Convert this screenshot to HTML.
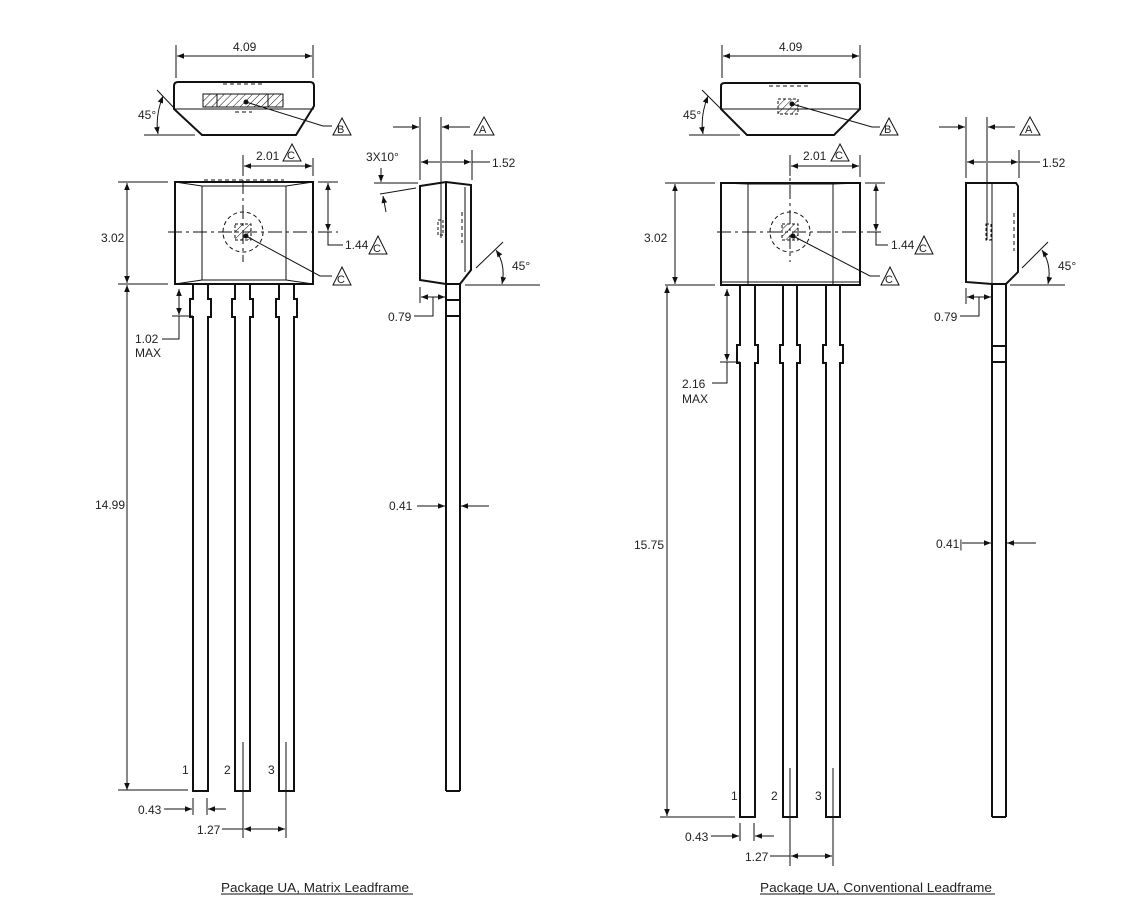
<!DOCTYPE html>
<html><head><meta charset="utf-8"><style>
html,body{margin:0;padding:0;background:#fff;}
svg{display:block;}
text{font-family:"Liberation Sans",sans-serif;font-size:12px;fill:#222;}
.o{stroke:#111;stroke-width:2;fill:none;}
.t{stroke:#111;stroke-width:1;fill:none;}
.d{stroke:#111;stroke-width:1;fill:none;stroke-dasharray:4,3;}
.c{stroke:#111;stroke-width:1;fill:none;stroke-dasharray:14,4,3,4;}
</style></head><body>
<svg width="1137" height="899" viewBox="0 0 1137 899" xmlns="http://www.w3.org/2000/svg">
<defs>
<marker id="a" viewBox="0 0 10 10" refX="10" refY="5" markerWidth="9" markerHeight="7" orient="auto-start-reverse" markerUnits="userSpaceOnUse"><path d="M0,1 L10,5 L0,9 z" fill="#111"/></marker>
<pattern id="h" width="5" height="5" patternUnits="userSpaceOnUse" patternTransform="rotate(45)"><line x1="0" y1="0" x2="0" y2="5" stroke="#111" stroke-width="1"/></pattern>
</defs>

<!-- ============ LEFT PACKAGE ============ -->
<line class="t" x1="176" y1="45" x2="176" y2="78"/><line class="t" x1="313" y1="45" x2="313" y2="78"/>
<line class="t" x1="177" y1="56" x2="312" y2="56" marker-start="url(#a)" marker-end="url(#a)"/>
<text x="233" y="51">4.09</text>
<path class="o" d="M178,82 L310,82 Q314,82 314,86 L314,106 L296,135 L202,135 L174,109 L174,86 Q174,82 178,82 Z"/>
<line class="t" x1="174" y1="109" x2="314" y2="109"/>
<rect x="203" y="94" width="80" height="13" fill="url(#h)" stroke="#111" stroke-width="1"/>
<line class="t" x1="217" y1="94" x2="217" y2="107"/><line class="t" x1="268" y1="94" x2="268" y2="107"/>
<line class="d" x1="223" y1="84" x2="262" y2="84"/>
<line class="d" x1="235" y1="112" x2="252" y2="112"/>
<circle cx="246" cy="102" r="2.5" fill="#111"/>
<polyline class="t" points="246,102 323,126 332,126"/>
<polygon class="t" points="342,118 333,135 351,135"/><text x="337" y="133" style="font-size:11px">B</text>
<line class="t" x1="157" y1="90" x2="176" y2="110"/><line class="t" x1="144" y1="135" x2="195" y2="135"/>
<path class="t" d="M163,96 Q155,116 158,134" marker-start="url(#a)" marker-end="url(#a)"/>
<text x="138" y="119">45°</text>

<rect class="o" x="175" y="182" width="138" height="102"/>
<polyline class="t" points="175,182 202,186 286,186 313,182"/>
<polyline class="t" points="175,284 202,280 286,280 313,284"/>
<line class="t" x1="202" y1="186" x2="202" y2="280"/><line class="t" x1="286" y1="186" x2="286" y2="280"/>
<line class="d" x1="204" y1="180" x2="284" y2="180"/>
<line class="c" x1="243" y1="155" x2="243" y2="262"/>
<line class="c" x1="168" y1="232" x2="338" y2="232"/>
<circle cx="243" cy="232" r="20" class="d"/>
<rect x="235" y="224" width="16" height="16" fill="url(#h)" stroke="#111" stroke-width="1" stroke-dasharray="3,2"/>
<circle cx="246" cy="236" r="2.5" fill="#111"/>
<polyline class="t" points="246,236 320,276 332,276"/>
<polygon class="t" points="342,267 333,285 351,285"/><text x="337" y="283" style="font-size:11px">C</text>
<line class="t" x1="243" y1="160" x2="243" y2="176"/>
<line class="t" x1="313" y1="158" x2="313" y2="176"/>
<line class="t" x1="244" y1="166" x2="312" y2="166" marker-start="url(#a)" marker-end="url(#a)"/>
<text x="256" y="160">2.01</text>
<polygon class="t" points="292,144 283,161 301,161"/><text x="287" y="159" style="font-size:11px">C</text>
<line class="t" x1="118" y1="182" x2="168" y2="182"/><line class="t" x1="118" y1="284" x2="168" y2="284"/>
<line class="t" x1="127" y1="183" x2="127" y2="283" marker-start="url(#a)" marker-end="url(#a)"/>
<text x="101" y="242">3.02</text>
<line class="t" x1="318" y1="182" x2="338" y2="182"/>
<line class="t" x1="328" y1="183" x2="328" y2="231" marker-start="url(#a)" marker-end="url(#a)"/>
<polyline class="t" points="328,232 328,245 343,245"/>
<text x="345" y="249">1.44</text>
<polygon class="t" points="378,236 369,254 387,254"/><text x="373" y="252" style="font-size:11px">C</text>
<g class="o">
<path d="M193,284 V299 H190 V317 H193 V791 H208 V317 H211 V299 H208 V284"/>
<path d="M235,284 V299 H232 V317 H235 V791 H250 V317 H253 V299 H250 V284"/>
<path d="M279,284 V299 H276 V317 H279 V791 H294 V317 H297 V299 H294 V284"/>
</g>
<line class="t" x1="243" y1="742" x2="243" y2="800"/><line class="t" x1="286" y1="742" x2="286" y2="800"/>
<text x="182" y="774">1</text><text x="224" y="774">2</text><text x="268" y="774">3</text>
<line class="t" x1="172" y1="316" x2="193" y2="316"/>
<line class="t" x1="179" y1="289" x2="179" y2="315" marker-start="url(#a)" marker-end="url(#a)"/>
<polyline class="t" points="179,316 179,339 162,339"/>
<text x="135" y="343">1.02</text><text x="135" y="357">MAX</text>
<line class="t" x1="127" y1="285" x2="127" y2="790" marker-start="url(#a)" marker-end="url(#a)"/>
<line class="t" x1="118" y1="790" x2="188" y2="790"/>
<text x="95" y="509">14.99</text>
<line class="t" x1="193" y1="798" x2="193" y2="815"/><line class="t" x1="207" y1="798" x2="207" y2="815"/>
<line class="t" x1="164" y1="809" x2="192" y2="809" marker-end="url(#a)"/>
<line class="t" x1="226" y1="809" x2="208" y2="809" marker-end="url(#a)"/>
<text x="138" y="814">0.43</text>
<line class="t" x1="243" y1="800" x2="243" y2="838"/><line class="t" x1="286" y1="800" x2="286" y2="838"/>
<line class="t" x1="222" y1="829" x2="243" y2="829"/>
<line class="t" x1="244" y1="829" x2="285" y2="829" marker-start="url(#a)" marker-end="url(#a)"/>
<text x="197" y="834">1.27</text>
<text x="221" y="892" textLength="188" lengthAdjust="spacingAndGlyphs" style="font-size:13px">Package UA, Matrix Leadframe</text>
<line class="t" x1="221" y1="894" x2="413" y2="894"/>

<path class="o" d="M420,186 L446,182 L471,185 L471,270 L460,284 L446,284 L420,280 Z"/>
<line class="o" x1="446" y1="182" x2="446" y2="284"/>
<line class="t" x1="465" y1="187" x2="465" y2="272"/>
<line class="d" x1="462" y1="212" x2="462" y2="243"/>
<path class="t" d="M438,220 h5 v15 h-5 z" stroke-dasharray="3,2"/>
<line class="o" x1="446" y1="284" x2="446" y2="791"/><line class="o" x1="460" y1="284" x2="460" y2="791"/>
<line class="o" x1="446" y1="791" x2="460" y2="791"/>
<line class="o" x1="446" y1="300" x2="460" y2="300"/><line class="o" x1="446" y1="316" x2="460" y2="316"/>
<line class="t" x1="420" y1="117" x2="420" y2="180"/><line class="t" x1="441" y1="117" x2="441" y2="238"/>
<line class="t" x1="393" y1="127" x2="419" y2="127" marker-end="url(#a)"/>
<line class="t" x1="470" y1="127" x2="442" y2="127" marker-end="url(#a)"/>
<polygon class="t" points="484,117 474,135 494,135"/><text x="479" y="133" style="font-size:11px">A</text>
<line class="t" x1="472" y1="150" x2="472" y2="180"/>
<line class="t" x1="440" y1="162" x2="421" y2="162" marker-end="url(#a)"/>
<line class="t" x1="442" y1="162" x2="471" y2="162" marker-end="url(#a)"/>
<line class="t" x1="472" y1="162" x2="490" y2="162"/>
<text x="492" y="167">1.52</text>
<text x="366" y="161">3X10°</text>
<line class="t" x1="374" y1="183" x2="418" y2="183"/>
<line class="t" x1="380" y1="194" x2="416" y2="188"/>
<line class="t" x1="381" y1="168" x2="381" y2="182" marker-end="url(#a)"/>
<line class="t" x1="386" y1="212" x2="383" y2="196" marker-end="url(#a)"/>
<line class="t" x1="476" y1="268" x2="503" y2="242"/>
<line class="t" x1="465" y1="285" x2="540" y2="285"/>
<path class="t" d="M496,250 Q506,265 502,284" marker-start="url(#a)" marker-end="url(#a)"/>
<text x="512" y="270">45°</text>
<line class="t" x1="420" y1="287" x2="420" y2="303"/>
<line class="t" x1="421" y1="297" x2="445" y2="297" marker-start="url(#a)" marker-end="url(#a)"/>
<polyline class="t" points="433,297 433,316 414,316"/>
<text x="388" y="321">0.79</text>
<line class="t" x1="417" y1="506" x2="445" y2="506" marker-end="url(#a)"/>
<line class="t" x1="489" y1="506" x2="461" y2="506" marker-end="url(#a)"/>
<text x="389" y="510">0.41</text>

<!-- ============ RIGHT PACKAGE ============ -->
<line class="t" x1="722" y1="45" x2="722" y2="78"/><line class="t" x1="860" y1="45" x2="860" y2="78"/>
<line class="t" x1="723" y1="56" x2="859" y2="56" marker-start="url(#a)" marker-end="url(#a)"/>
<text x="779" y="51">4.09</text>
<path class="o" d="M725,83 L857,83 Q860,83 860,86 L860,109 L834,135 L747,135 L721,109 L721,86 Q721,83 725,83 Z"/>
<line class="t" x1="721" y1="109" x2="860" y2="109"/>
<line class="d" x1="769" y1="86" x2="808" y2="86"/>
<rect x="778" y="99" width="20" height="15" fill="url(#h)" stroke="#111" stroke-width="1" stroke-dasharray="3,2"/>
<circle cx="792" cy="104" r="2.5" fill="#111"/>
<polyline class="t" points="792,104 872,127 880,127"/>
<polygon class="t" points="889,118 880,135 898,135"/><text x="884" y="133" style="font-size:11px">B</text>
<line class="t" x1="702" y1="90" x2="721" y2="109"/><line class="t" x1="689" y1="135" x2="740" y2="135"/>
<path class="t" d="M708,96 Q700,116 703,134" marker-start="url(#a)" marker-end="url(#a)"/>
<text x="683" y="119">45°</text>

<rect class="o" x="721" y="183" width="139" height="102"/>
<polyline class="t" points="721,183 748,184 833,184 860,183"/>
<line class="t" x1="748" y1="184" x2="748" y2="285"/><line class="t" x1="833" y1="184" x2="833" y2="285"/>
<line class="t" x1="721" y1="282" x2="860" y2="282"/>
<line class="c" x1="790" y1="160" x2="790" y2="262"/>
<line class="c" x1="717" y1="232" x2="885" y2="232"/>
<circle cx="790" cy="232" r="20" class="d"/>
<rect x="782" y="224" width="16" height="16" fill="url(#h)" stroke="#111" stroke-width="1" stroke-dasharray="3,2"/>
<circle cx="793" cy="236" r="2.5" fill="#111"/>
<polyline class="t" points="793,236 870,276 880,276"/>
<polygon class="t" points="890,267 881,285 899,285"/><text x="885" y="283" style="font-size:11px">C</text>
<line class="t" x1="790" y1="155" x2="790" y2="176"/>
<line class="t" x1="860" y1="155" x2="860" y2="177"/>
<line class="t" x1="791" y1="166" x2="859" y2="166" marker-start="url(#a)" marker-end="url(#a)"/>
<text x="803" y="160">2.01</text>
<polygon class="t" points="840,144 831,161 849,161"/><text x="835" y="159" style="font-size:11px">C</text>
<line class="t" x1="665" y1="183" x2="715" y2="183"/><line class="t" x1="665" y1="285" x2="715" y2="285"/>
<line class="t" x1="675" y1="184" x2="675" y2="284" marker-start="url(#a)" marker-end="url(#a)"/>
<text x="644" y="242">3.02</text>
<line class="t" x1="865" y1="183" x2="885" y2="183"/>
<line class="t" x1="876" y1="184" x2="876" y2="231" marker-start="url(#a)" marker-end="url(#a)"/>
<polyline class="t" points="876,232 876,245 888,245"/>
<text x="891" y="249">1.44</text>
<polygon class="t" points="924,236 915,254 933,254"/><text x="919" y="252" style="font-size:11px">C</text>
<g class="o">
<path d="M740,285 V345 H737 V363 H740 V817 H755 V363 H758 V345 H755 V285"/>
<path d="M783,285 V345 H780 V363 H783 V817 H797 V363 H800 V345 H797 V285"/>
<path d="M826,285 V345 H823 V363 H826 V817 H840 V363 H843 V345 H840 V285"/>
</g>
<line class="t" x1="790" y1="768" x2="790" y2="826"/><line class="t" x1="833" y1="768" x2="833" y2="826"/>
<text x="731" y="800">1</text><text x="771" y="800">2</text><text x="815" y="800">3</text>
<line class="t" x1="720" y1="362" x2="740" y2="362"/>
<line class="t" x1="727" y1="289" x2="727" y2="361" marker-start="url(#a)" marker-end="url(#a)"/>
<polyline class="t" points="727,362 727,383 712,383"/>
<text x="682" y="388">2.16</text><text x="682" y="403">MAX</text>
<line class="t" x1="667" y1="286" x2="667" y2="816" marker-start="url(#a)" marker-end="url(#a)"/>
<line class="t" x1="660" y1="817" x2="735" y2="817"/>
<text x="634" y="549">15.75</text>
<line class="t" x1="740" y1="823" x2="740" y2="841"/><line class="t" x1="754" y1="823" x2="754" y2="841"/>
<line class="t" x1="711" y1="836" x2="739" y2="836" marker-end="url(#a)"/>
<line class="t" x1="774" y1="836" x2="755" y2="836" marker-end="url(#a)"/>
<text x="685" y="841">0.43</text>
<line class="t" x1="790" y1="826" x2="790" y2="866"/><line class="t" x1="833" y1="826" x2="833" y2="866"/>
<line class="t" x1="770" y1="856" x2="790" y2="856"/>
<line class="t" x1="791" y1="856" x2="832" y2="856" marker-start="url(#a)" marker-end="url(#a)"/>
<text x="745" y="861">1.27</text>
<text x="760" y="892" textLength="232" lengthAdjust="spacingAndGlyphs" style="font-size:13px">Package UA, Conventional Leadframe</text>
<line class="t" x1="760" y1="894" x2="995" y2="894"/>

<path class="o" d="M966,183 L1016,183 L1018,186 L1018,272 L1006,284 L992,284 L966,282 Z"/>
<line class="t" x1="992" y1="183" x2="992" y2="284"/>
<line class="d" x1="1014" y1="213" x2="1014" y2="251"/>
<path class="t" d="M986,224 h5 v16 h-5 z" stroke-dasharray="3,2"/>
<line class="o" x1="992" y1="284" x2="992" y2="817"/><line class="o" x1="1006" y1="284" x2="1006" y2="817"/>
<line class="o" x1="992" y1="817" x2="1006" y2="817"/>
<line class="o" x1="992" y1="346" x2="1006" y2="346"/><line class="o" x1="992" y1="362" x2="1006" y2="362"/>
<line class="t" x1="966" y1="117" x2="966" y2="178"/><line class="t" x1="987" y1="117" x2="987" y2="240"/>
<line class="t" x1="939" y1="127" x2="965" y2="127" marker-end="url(#a)"/>
<line class="t" x1="1015" y1="127" x2="988" y2="127" marker-end="url(#a)"/>
<polygon class="t" points="1030,117 1020,135 1040,135"/><text x="1025" y="133" style="font-size:11px">A</text>
<line class="t" x1="1019" y1="150" x2="1019" y2="178"/>
<line class="t" x1="986" y1="162" x2="967" y2="162" marker-end="url(#a)"/>
<line class="t" x1="988" y1="162" x2="1018" y2="162" marker-end="url(#a)"/>
<line class="t" x1="1019" y1="162" x2="1040" y2="162"/>
<text x="1042" y="167">1.52</text>
<line class="t" x1="1022" y1="268" x2="1048" y2="242"/>
<line class="t" x1="1010" y1="285" x2="1065" y2="285"/>
<path class="t" d="M1042,250 Q1052,265 1048,284" marker-start="url(#a)" marker-end="url(#a)"/>
<text x="1058" y="270">45°</text>
<line class="t" x1="966" y1="288" x2="966" y2="304"/>
<line class="t" x1="967" y1="297" x2="991" y2="297" marker-start="url(#a)" marker-end="url(#a)"/>
<polyline class="t" points="979,297 979,316 960,316"/>
<text x="934" y="321">0.79</text>
<line class="t" x1="962" y1="543" x2="991" y2="543" marker-end="url(#a)"/>
<line class="t" x1="1036" y1="543" x2="1007" y2="543" marker-end="url(#a)"/>
<text x="936" y="548">0.41|</text>
</svg>
</body></html>
